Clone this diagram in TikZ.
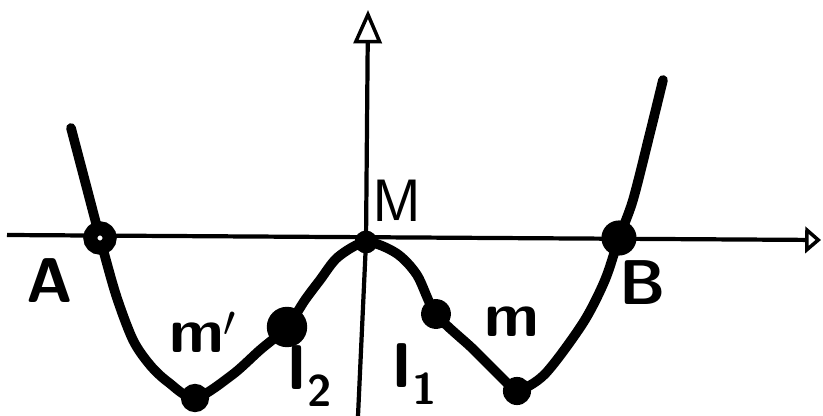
\documentclass[tikz,border=0pt]{standalone}
\usepackage{fontspec}
\usepackage{tikz}
\usetikzlibrary{arrows.meta}
\tikzset{
  axis/.style={line width=2.4pt},
  curve/.style={line width=5.5pt, line join=round, line cap=round},
  dot/.style={circle, fill=black, inner sep=0pt, minimum size=#1},
  dot/.default=14pt,
  ring/.style={circle, draw=black, line width=8pt, fill=white, inner sep=0pt, minimum size=#1},
  ring/.default=11pt,
  lab/.style={font=\sffamily\bfseries\fontsize{36}{38}\selectfont, inner sep=0pt}
}
\begin{document}
\begin{tikzpicture}[x=0.02cm, y=-0.02cm]
  \useasboundingbox (0,0) rectangle (823,416);
  % points on the curve
  \coordinate (A) at (100,238);
  \coordinate (mL) at (195,398);
  \coordinate (I2) at (287,327);
  \coordinate (M) at (366,242);
  \coordinate (I1) at (436,314);
  \coordinate (mR) at (517,391);
  \coordinate (B) at (619,238);
  % axes
  \coordinate (xs) at (7,235);
  \coordinate (xe) at (821,240);
  \coordinate (ys) at (358,416);
  \coordinate (ye) at (368,10);
  \draw[axis, -{Triangle[open, length=9pt, width=15pt, line width=2pt]}] (xs) -- (xe);
  \draw[axis, -{Triangle[open, length=19pt, width=16pt, line width=2pt]}] (ys) -- (M) -- (ye);
  % the curve
  \draw[curve] plot[smooth, tension=0.5] coordinates {
    (71,128) (86,185) (A) (116,295) (133,340) (150,365) (168,382) (mL)
    (232,375) (260,350) (I2) (305,300) (320,280) (338,257) (M) (396,253)
    (417,275) (I1) (473,349) (506,382) (mR) (545,374) (583,323) (605,280)
    (B) (633,200) (650,133) (663,80)};
  % dots
  \node[ring] (nA) at (A) {};
  \node[ring=8pt] (nmL) at (mL) {};
  \node[dot=23pt] (nI2) at (I2) {};
  \node[dot=13pt] (nM) at (M) {};
  \node[dot=17pt] (nI1) at (I1) {};
  \node[dot=16pt] (nmR) at (mR) {};
  \node[dot=20pt] (nB) at (B) {};
  % labels
  \node[lab] (tA) at (50,281) {A};
  \node[lab] (tmL) at (203,332) {m$'$};
  \node[lab] (tI2) at (310,376) {I\textsubscript{2}};
  \node[lab] (tI1) at (415,374) {I\textsubscript{1}};
  \node[lab] (tmR) at (512,322) {m};
  \node[lab] (tB) at (643,283) {B};
  \node[font=\sffamily\fontsize{34}{36}\selectfont, inner sep=0pt] (tM) at (397,201) {M};
\end{tikzpicture}
\end{document}
